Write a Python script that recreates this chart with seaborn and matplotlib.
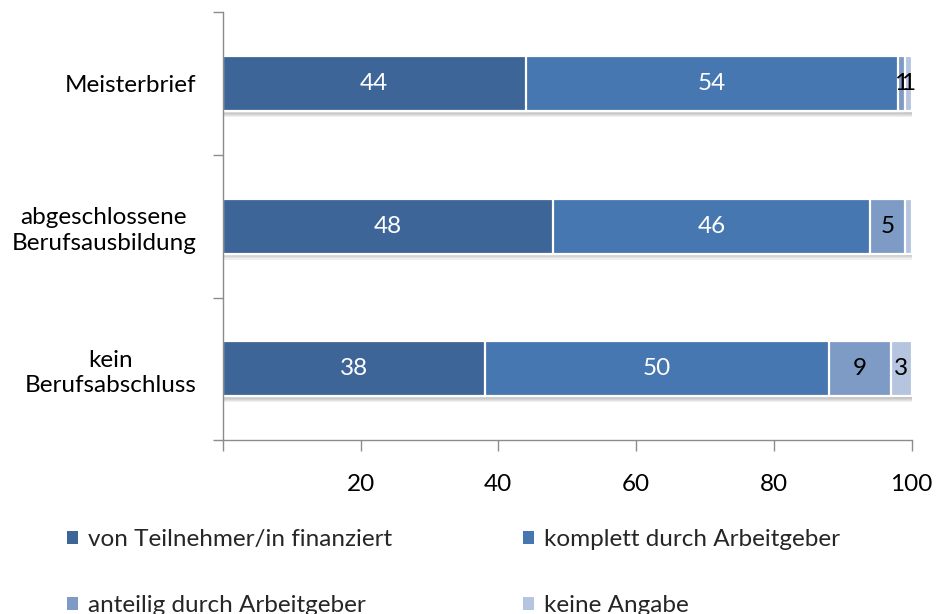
import numpy as np
import seaborn as sns
import matplotlib.pyplot as plt
import matplotlib.patheffects as pe
from matplotlib.patches import Patch

# ── data ──────────────────────────────────────────────────────────────────────
categories = ["Meisterbrief", "abgeschlossene\nBerufsausbildung", "kein\nBerufsabschluss"]
series = ["von Teilnehmer/in finanziert", "komplett durch Arbeitgeber",
          "anteilig durch Arbeitgeber", "keine Angabe"]
teilnehmer = [44, 48, 38]
komplett = [54, 46, 50]
anteilig = [1, 5, 9]
keine_angabe = [1, 1, 3]
# labels shown in the chart (None = not labelled)
labels_keine = ["1", None, "3"]

colors = ["#3D6597", "#4777B0", "#7E9BC6", "#B5C4DF"]
text_colors = ["white", "white", "black", "black"]

# ── style ─────────────────────────────────────────────────────────────────────
sns.set_theme(style="white")
plt.rcParams["font.family"] = ["Lato", "DejaVu Sans"]
FS = 17.5

values = np.array([teilnehmer, komplett, anteilig, keine_angabe], dtype=float)
cum = values.cumsum(axis=0)

fig = plt.figure(figsize=(9.36, 6.14), dpi=100)
ax = fig.add_axes([0.238, 0.283, 0.736, 0.697])

# soft drop shadow under the bars
shadow = [pe.SimplePatchShadow(offset=(0.8, -o), shadow_rgbFace="#555555", alpha=0.09)
          for o in (1.0, 1.8, 2.6, 3.4, 4.2)] + [pe.Normal()]

# overlapping cumulative bars, widest first, give a stacked look
for k in range(len(series) - 1, -1, -1):
    n_before = len(ax.patches)
    sns.barplot(x=cum[k], y=categories, orient="h", color=colors[k],
                width=0.385, edgecolor="white", linewidth=1.6,
                saturation=1, ax=ax)
    if k == len(series) - 1:
        for p in ax.patches[n_before:]:
            p.set_path_effects(shadow)

# segment labels
for k in range(len(series)):
    for i in range(len(categories)):
        lab = str(int(values[k, i]))
        if k == 3:
            lab = labels_keine[i]
        if lab is None:
            continue
        ax.text(cum[k, i] - values[k, i] / 2, i, lab, ha="center", va="center",
                color=text_colors[k], fontsize=FS)

ax.set_xlim(0, 100)
ax.set_ylim(2.5, -0.5)
ax.set_xticks([0, 20, 40, 60, 80, 100])
ax.set_xticklabels(["", "20", "40", "60", "80", "100"])
ax.set_xlabel("")
ax.set_ylabel("")
ax.set_yticks(range(len(categories)))
ax.set_yticklabels(categories, multialignment="center", linespacing=1.25)
ax.set_yticks([-0.5, 0.5, 1.5, 2.5], minor=True)

for s in ["top", "right"]:
    ax.spines[s].set_visible(False)
for s in ["left", "bottom"]:
    ax.spines[s].set_color("#8c8c8c")
    ax.spines[s].set_linewidth(1.0)

ax.tick_params(axis="x", bottom=True, direction="out", length=8, width=1,
               color="#8c8c8c", pad=16, labelsize=FS, labelcolor="black")
ax.tick_params(axis="y", which="major", left=False, length=0, pad=19,
               labelsize=FS, labelcolor="black")
ax.tick_params(axis="y", which="minor", left=True, direction="out", length=7,
               width=1, color="#8c8c8c")

# legend fills column-wise, so reorder to get rows: (0, 1) / (2, 3)
order = [0, 2, 1, 3]
handles = [Patch(facecolor=colors[j], edgecolor="none") for j in order]
fig.legend(handles, [series[j] for j in order], loc="upper left",
           bbox_to_anchor=(0.072, 0.138), ncol=2, frameon=False, fontsize=FS,
           handlelength=0.45, handleheight=0.45, handletextpad=0.4,
           columnspacing=5.4, labelspacing=1.85, borderaxespad=0, borderpad=0)

fig.savefig("out.png", dpi=100)
